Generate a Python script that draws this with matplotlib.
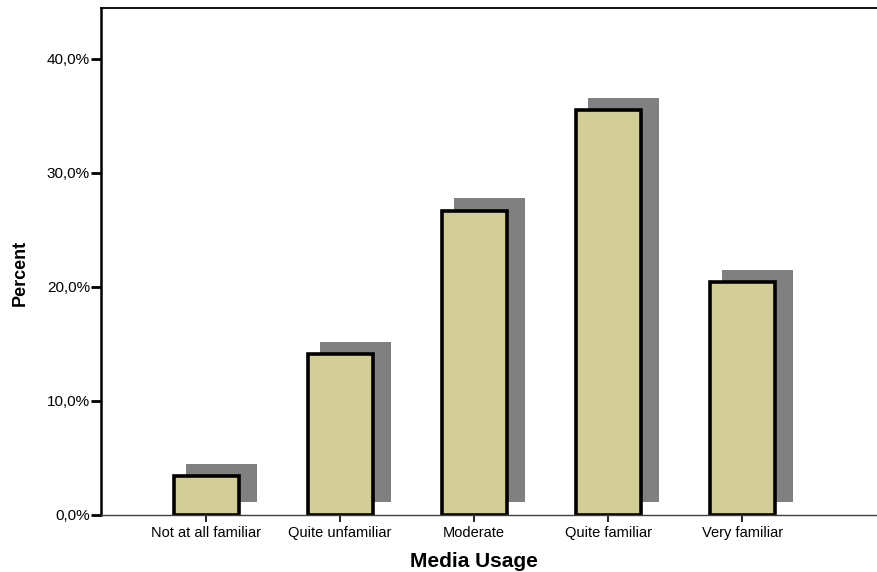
import numpy as np
import matplotlib
matplotlib.use('Agg')
from matplotlib import pyplot as plt
from matplotlib import transforms

# 数据
categories = ['Not at all familiar', 'Quite unfamiliar', 'Moderate', 'Quite familiar', 'Very familiar']
percent = [3.4, 14.1, 26.7, 35.5, 20.4]
yticks = [0, 10, 20, 30, 40]
ytick_labels = ['0,0%', '10,0%', '20,0%', '30,0%', '40,0%']

plt.rcParams['font.family'] = ['Liberation Sans', 'DejaVu Sans']

fig = plt.figure(figsize=(8.77, 5.72), dpi=100)
ax = fig.add_axes([0.1152, 0.0997, 0.8848, 0.8863])

x = np.arange(len(categories))

# 阴影: 向右上平移
shadow_tr = ax.transData + transforms.ScaledTranslation(15.5 / 100, 12.5 / 100, fig.dpi_scale_trans)
ax.bar(x, percent, width=0.53, color='#808080', linewidth=0, transform=shadow_tr, zorder=1)
ax.bar(x, percent, width=0.485, color='#D3CE98', edgecolor='black', linewidth=2.6, zorder=2)

ax.set_xlim(-0.784, 5.007)
ax.set_ylim(0, 44.47)

ax.set_xticks(x)
ax.set_xticklabels(categories, fontsize=10.5)
ax.set_yticks(yticks)
ax.set_yticklabels(ytick_labels, fontsize=11)

ax.tick_params(axis='y', length=7, width=2, pad=1, colors='black')
ax.tick_params(axis='x', length=5, width=1.2, pad=3, colors='black')

ax.spines['right'].set_visible(False)
ax.spines['left'].set_linewidth(1.8)
ax.spines['top'].set_linewidth(1.3)
ax.spines['bottom'].set_linewidth(1.0)
ax.spines['bottom'].set_color('#404040')

ax.set_xlabel('Media Usage', fontsize=15, fontweight='bold')
ax.xaxis.set_label_coords(0.4807, -0.073)
ax.set_ylabel('Percent', fontsize=13, fontweight='bold')
ax.yaxis.set_label_coords(-0.093, 0.477)

fig.savefig('out.png', dpi=100)
